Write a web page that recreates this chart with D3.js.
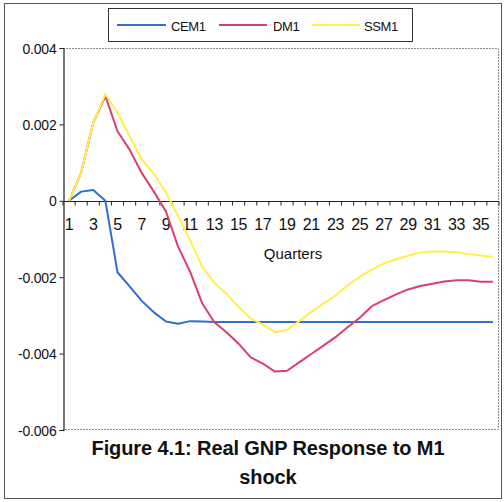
<!DOCTYPE html>
<html>
<head>
<meta charset="utf-8">
<script src="https://cdn.jsdelivr.net/npm/d3@7"></script>
<style>
  html, body { margin: 0; padding: 0; background: #fff; }
  svg { display: block; }
  text { font-family: Arial, "Liberation Sans", sans-serif; fill: #111; }
</style>
</head>
<body>
<svg id="chart" width="504" height="502"></svg>
<script>
// Quarters after the shock
const quarters = [1,2,3,4,5,6,7,8,9,10,11,12,13,14,15,16,17,18,19,20,21,22,23,24,25,26,27,28,29,30,31,32,33,34,35,36];
const quarterLabels = [1,3,5,7,9,11,13,15,17,19,21,23,25,27,29,31,33,35];

// Impulse responses of real GNP
const cem1 = [0,0.00024,0.00028,0.0000,-0.00187,-0.00224,-0.00262,-0.00292,-0.00316,-0.00322,-0.00315,-0.00316,-0.00317,-0.00317,-0.00317,-0.00317,-0.00317,-0.00317,-0.00317,-0.00317,-0.00317,-0.00317,-0.00317,-0.00317,-0.00317,-0.00317,-0.00317,-0.00317,-0.00317,-0.00317,-0.00317,-0.00317,-0.00317,-0.00317,-0.00317,-0.00317];
const dm1 = [0,0.00074,0.00205,0.00274,0.00182,0.00134,0.00073,0.00024,-0.00028,-0.0012,-0.00186,-0.00269,-0.00318,-0.00344,-0.00374,-0.0041,-0.00426,-0.00447,-0.00445,-0.00423,-0.00401,-0.00379,-0.00357,-0.00331,-0.00306,-0.00276,-0.0026,-0.00245,-0.00232,-0.00223,-0.00217,-0.00211,-0.00208,-0.00208,-0.00212,-0.00212];
const ssm1 = [0,0.00074,0.00205,0.00279,0.00231,0.00169,0.00108,0.00071,0.00022,-0.00039,-0.00103,-0.00173,-0.00215,-0.00243,-0.00278,-0.00308,-0.00324,-0.00344,-0.00338,-0.00315,-0.00291,-0.00269,-0.00248,-0.00221,-0.00199,-0.0018,-0.00164,-0.00153,-0.00144,-0.00135,-0.00133,-0.00133,-0.00135,-0.00139,-0.00143,-0.00147];

const seriesNames = ["CEM1", "DM1", "SSM1"];
const seriesColors = ["#2f6fd0", "#dc3d73", "#fff04c"];

// Value axis
const yTicks = [0.004, 0.002, 0, -0.002, -0.004, -0.006];
const yTickLabels = ["0.004", "0.002", "0", "-0.002", "-0.004", "-0.006"];

const titleLines = ["Figure 4.1: Real GNP Response to M1", "shock"];
const xAxisTitle = "Quarters";

const svg = d3.select("#chart");

const plot = { left: 63, right: 499, top: 48, bottom: 430 };

const x = d3.scaleBand().domain(quarters).range([plot.left, plot.right]);
const y = d3.scaleLinear().domain([-0.006, 0.004]).range([plot.bottom, plot.top]);

// Outer chart frame
svg.append("rect")
  .attr("x", 4.5).attr("y", 3.5)
  .attr("width", 497).attr("height", 495)
  .attr("fill", "#fff")
  .attr("stroke", "#555").attr("stroke-width", 1);

// Plot area border (top, right, bottom), light dotted
svg.append("path")
  .attr("d", `M${plot.left},${plot.top + 0.5}H${plot.right - 0.5}V${plot.bottom - 0.5}H${plot.left}`)
  .attr("fill", "none")
  .attr("stroke", "#8a8a8a")
  .attr("stroke-width", 1)
  .attr("stroke-dasharray", "2,1");

// Value axis on the left
const yAxis = d3.axisLeft(y)
  .tickValues(yTicks)
  .tickSize(4)
  .tickPadding(3)
  .tickFormat((d, i) => yTickLabels[i]);

const gy = svg.append("g")
  .attr("transform", `translate(${plot.left + 0.5},0)`)
  .call(yAxis);
gy.select(".domain").attr("stroke", "#222").attr("stroke-width", 1.2);
gy.selectAll(".tick line").attr("stroke", "#222");
gy.selectAll(".tick text")
  .attr("font-size", 14)
  .attr("font-family", "Arial, 'Liberation Sans', sans-serif")
  .attr("fill", "#111")
  .attr("letter-spacing", "-0.2")
  .attr("dy", "0.36em");

// Category axis at zero
const zeroY = Math.round(y(0)) + 0.5;
svg.append("line")
  .attr("x1", plot.left).attr("x2", plot.right)
  .attr("y1", zeroY).attr("y2", zeroY)
  .attr("stroke", "#222").attr("stroke-width", 1.2);

// Tick marks between categories
const boundaries = quarters.map(q => x(q)).concat([x(quarters[quarters.length - 1]) + x.bandwidth()]);
svg.append("g").selectAll("line")
  .data(boundaries)
  .join("line")
  .attr("x1", d => d).attr("x2", d => d)
  .attr("y1", zeroY).attr("y2", zeroY + 4)
  .attr("stroke", "#222");

const xAxis = d3.axisBottom(x)
  .tickValues(quarterLabels)
  .tickSize(0)
  .tickPadding(0);
const gx = svg.append("g")
  .attr("transform", `translate(0,${zeroY})`)
  .call(xAxis);
gx.select(".domain").remove();
gx.selectAll(".tick text")
  .attr("font-size", 16)
  .attr("font-family", "Arial, 'Liberation Sans', sans-serif")
  .attr("fill", "#111")
  .attr("dy", 0)
  .attr("y", 28)
  .attr("letter-spacing", "-0.3");

svg.append("text")
  .attr("x", 293).attr("y", 259)
  .attr("text-anchor", "middle")
  .attr("font-size", 15)
  .text(xAxisTitle);

// Response lines
const line = d3.line()
  .x((d, i) => x(quarters[i]) + x.bandwidth() / 2)
  .y(d => y(d));

const allSeries = [cem1, dm1, ssm1];
// blue first, then red, then yellow on top
svg.append("g").selectAll("path")
  .data(allSeries)
  .join("path")
  .attr("d", d => line(d))
  .attr("fill", "none")
  .attr("stroke", (d, i) => seriesColors[i])
  .attr("stroke-width", 2)
  .attr("stroke-linejoin", "round");

// Legend
const legend = svg.append("g");
legend.append("rect")
  .attr("x", 108.5).attr("y", 8.5)
  .attr("width", 304).attr("height", 33)
  .attr("fill", "#fff")
  .attr("stroke", "#333").attr("stroke-width", 1);

const legendItems = [
  { x1: 117, x2: 166, tx: 171 },
  { x1: 219, x2: 267, tx: 273 },
  { x1: 312, x2: 360, tx: 364 }
];
legendItems.forEach((it, i) => {
  legend.append("line")
    .attr("x1", it.x1).attr("x2", it.x2)
    .attr("y1", 25).attr("y2", 25)
    .attr("stroke", seriesColors[i]).attr("stroke-width", 2);
  legend.append("text")
    .attr("x", it.tx).attr("y", 30.5)
    .attr("font-size", 13)
    .attr("letter-spacing", "-0.4")
    .text(seriesNames[i]);
});

// Figure caption
svg.append("g").selectAll("text")
  .data(titleLines)
  .join("text")
  .attr("x", 268)
  .attr("y", (d, i) => 455 + i * 29)
  .attr("text-anchor", "middle")
  .attr("font-size", 20)
  .attr("font-weight", "bold")
  .attr("fill", "#222")
  .attr("letter-spacing", "-0.1")
  .text(d => d);
</script>
</body>
</html>
